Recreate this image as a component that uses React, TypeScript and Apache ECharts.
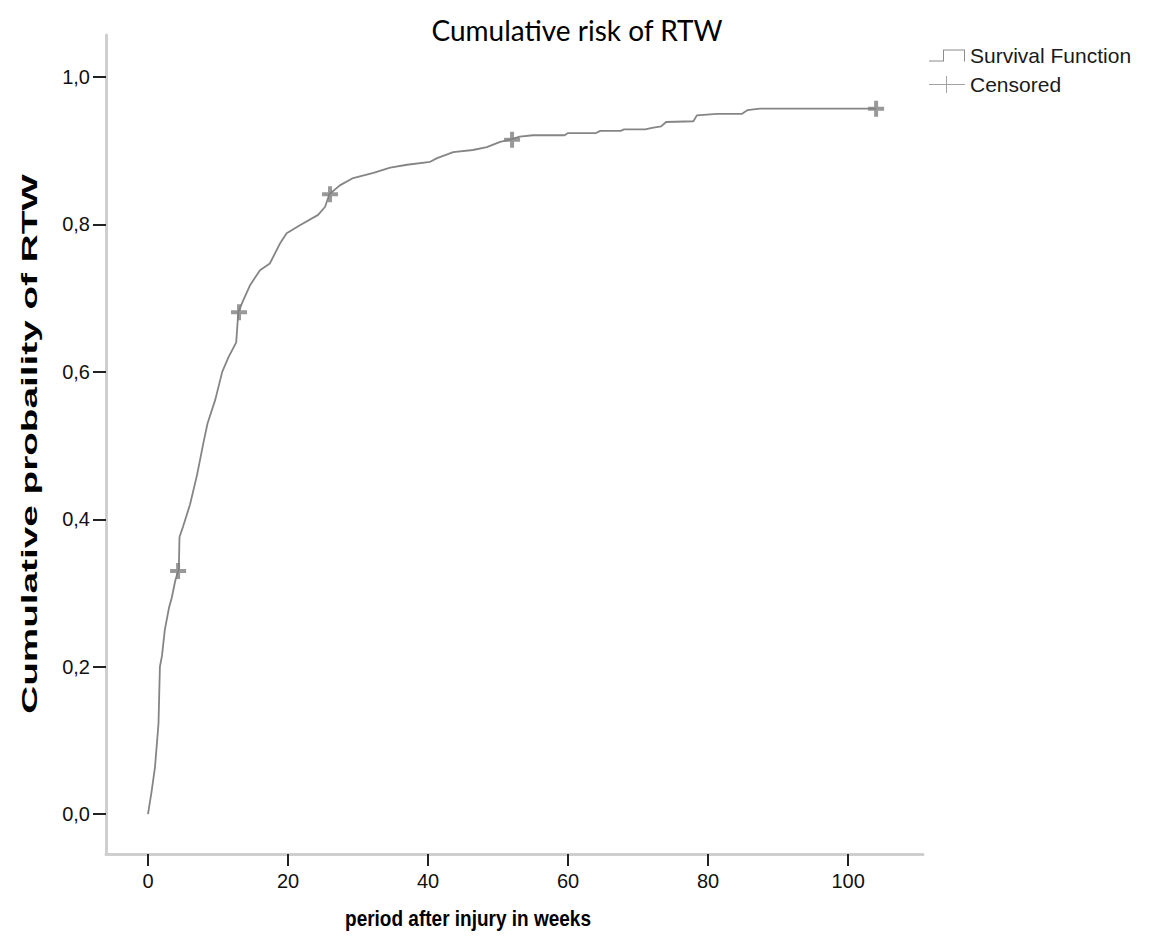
import React, { useEffect, useRef } from "react";
import * as echarts from "echarts";

const weeks = [0, 0.5, 1.0, 1.5, 1.7, 2.0, 2.4, 3.0, 3.4, 3.9, 4.4, 4.5, 5.0, 6.0, 7.0, 7.9, 8.5, 9.6, 10.6, 11.5, 12.6, 12.9, 13.6, 14.6, 16.0, 17.4, 18.9, 19.8, 21.7, 24.3, 25.3, 25.9, 27.4, 29.3, 32.2, 34.6, 37.0, 40.3, 41.3, 43.6, 46.4, 48.4, 50.3, 51.7, 53.1, 55.0, 59.5, 60.0, 64.0, 64.6, 67.5, 68.0, 71.0, 72.0, 73.3, 74.0, 77.9, 78.4, 81.3, 84.8, 85.6, 87.4, 104];
const cumProb = [0, 0.03, 0.064, 0.123, 0.2, 0.215, 0.25, 0.28, 0.294, 0.317, 0.333, 0.376, 0.39, 0.42, 0.46, 0.503, 0.53, 0.562, 0.6, 0.62, 0.64, 0.681, 0.697, 0.718, 0.738, 0.747, 0.775, 0.788, 0.799, 0.813, 0.824, 0.841, 0.853, 0.863, 0.87, 0.877, 0.881, 0.885, 0.89, 0.898, 0.901, 0.905, 0.912, 0.915, 0.919, 0.921, 0.921, 0.924, 0.924, 0.927, 0.927, 0.929, 0.929, 0.931, 0.933, 0.939, 0.94, 0.948, 0.95, 0.95, 0.955, 0.957, 0.957];

const censoredWeeks = [4.3, 13.0, 26.0, 52.0, 104.0];
const censoredProb = [0.33, 0.681, 0.841, 0.915, 0.957];

const xTicks = [0, 20, 40, 60, 80, 100];
const yTicks = [0, 0.2, 0.4, 0.6, 0.8, 1.0];

const PLUS = "path://M0,6 L6,6 L6,0 L10,0 L10,6 L16,6 L16,10 L10,10 L10,16 L6,16 L6,10 L0,10 Z";
const STEP_ICON = "path://M0,12 L14,12 L14,1 L36,1 L36,13 L35,13 L35,2 L15,2 L15,13 L0,13 Z";
const CENS_ICON = "path://M0,8 L17,8 L17,0 L18,0 L18,8 L36,8 L36,9 L18,9 L18,17 L17,17 L17,9 L0,9 Z";

export default function App() {
  const ref = useRef<HTMLDivElement>(null);
  useEffect(() => {
    if (!ref.current) return;
    const chart = echarts.init(ref.current, null, { renderer: "svg" });
    const lineData = weeks.map((w, i) => [w, cumProb[i]]);
    const censData = censoredWeeks.map((w, i) => [w, censoredProb[i]]);
    chart.setOption({
      animation: false,
      backgroundColor: "#ffffff",
      title: {
        text: "Cumulative risk of RTW",
        left: "center",
        top: 11,
        textStyle: { fontFamily: "Lato", fontSize: 28, fontWeight: "normal", color: "#000" },
      },
      legend: {
        orient: "vertical",
        left: 924,
        top: 40,
        itemWidth: 36,
        itemHeight: 17,
        itemGap: 8,
        selectedMode: false,
        textStyle: { fontFamily: "Liberation Sans", fontSize: 21, color: "#1a1a1a" },
        data: [
          { name: "Survival Function", icon: STEP_ICON, itemStyle: { color: "#8c8c8c" } },
          { name: "Censored", icon: CENS_ICON, itemStyle: { color: "#8c8c8c" } },
        ],
      },
      graphic: [
        {
          type: "text",
          x: 30,
          y: 444,
          rotation: Math.PI / 2,
          scaleX: 1.76,
          scaleY: 1,
          style: {
            text: "Cumulative probaility of RTW",
            fontFamily: "Liberation Sans",
            fontSize: 22,
            fontWeight: "bold",
            fill: "#000",
            align: "center",
            verticalAlign: "middle",
          },
        },
        {
          type: "text",
          x: 468,
          y: 918,
          scaleX: 1,
          scaleY: 1.15,
          style: {
            text: "period after injury in weeks",
            fontFamily: "Liberation Sans",
            fontSize: 19,
            fontWeight: "bold",
            fill: "#000",
            align: "center",
            verticalAlign: "middle",
          },
        },
      ],
      grid: { left: 106, right: 231, top: 35, bottom: 93, containLabel: false },
      xAxis: {
        type: "value",
        min: -6,
        max: 110.7,
        axisLine: { show: true, onZero: false, lineStyle: { color: "#cfcfcf", width: 3 } },
        axisTick: { show: true, customValues: xTicks, length: 12, lineStyle: { color: "#222", width: 2 } },
        axisLabel: {
          customValues: xTicks,
          margin: 17,
          fontFamily: "Liberation Sans",
          fontSize: 20,
          color: "#111",
          formatter: (v: number) => String(v),
        },
        splitLine: { show: false },
      },
      yAxis: {
        type: "value",
        min: -0.054,
        max: 1.057,
        axisLine: { show: true, onZero: false, lineStyle: { color: "#cfcfcf", width: 3 } },
        axisTick: { show: true, customValues: yTicks, length: 13, lineStyle: { color: "#222", width: 2 } },
        axisLabel: {
          customValues: yTicks,
          margin: 16,
          fontFamily: "Liberation Sans",
          fontSize: 20,
          color: "#111",
          formatter: (v: number) => v.toFixed(1).replace(".", ","),
        },
        splitLine: { show: false },
      },
      series: [
        {
          name: "Survival Function",
          type: "line",
          data: lineData,
          showSymbol: false,
          symbol: "none",
          lineStyle: { color: "#858585", width: 1.8 },
          itemStyle: { color: "#8c8c8c" },
          z: 2,
        },
        {
          name: "Censored",
          type: "scatter",
          data: censData,
          symbol: PLUS,
          symbolSize: 16,
          itemStyle: { color: "#808080" },
          z: 3,
        },
      ],
    });
    return () => chart.dispose();
  }, []);
  return <div ref={ref} style={{ position: "fixed", left: 0, top: 0, width: 1154, height: 947 }} />;
}
